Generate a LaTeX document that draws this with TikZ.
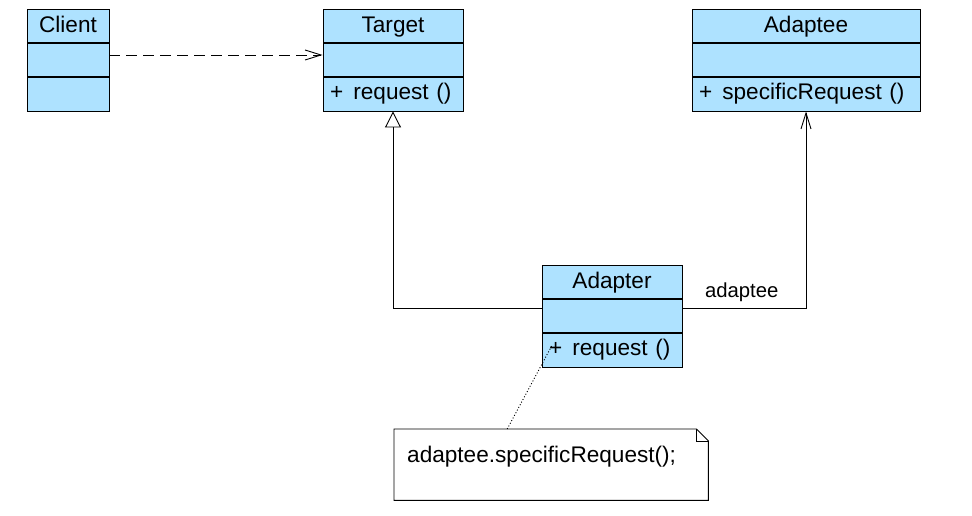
\documentclass[tikz,border=0pt]{standalone}
\usepackage{fontspec}
\setmainfont{Liberation Sans}
\usetikzlibrary{arrows.meta,positioning}
\definecolor{classblue}{RGB}{174,226,255}
\newcommand\umlfont{\fontsize{22.6}{27}\selectfont}
\newcommand\rolefont{\fontsize{20.3}{24}\selectfont}
\newcommand\opsign{+\hspace{0.45em}}
\tikzset{
  umlpart/.style={draw, fill=classblue, line width=0.9pt, minimum height=33.4pt, inner sep=0pt,
    text height=18pt, text depth=4pt, font=\umlfont},
  umlops/.style={umlpart, inner xsep=7pt, align=left, text height=16pt, text depth=6pt},
  dependency/.style={line width=0.9pt, dash pattern=on 11pt off 6pt, -{Straight Barb[length=16pt, width=10pt]}},
  realize/.style={line width=0.9pt, -{Triangle[open, length=16pt, width=16pt]}},
  assoc/.style={line width=0.9pt, -{Straight Barb[length=16pt, width=10pt]}},
  notebox/.style={minimum width=314pt, minimum height=71pt, text width=288pt, inner xsep=13pt, align=left, text height=16pt, text depth=20pt, font=\umlfont},
  noteline/.style={line width=0.9pt},
  notelink/.style={line width=0.9pt, dash pattern=on 1pt off 2pt},
}
\begin{document}
\begin{tikzpicture}[x=1pt, y=-1pt]
  \useasboundingbox (0,0) rectangle (972,516);
  % Client
  \node[umlpart, minimum width=82pt] (client) at (68,25.7) {Client};
  \node[umlpart, minimum width=82pt, below=0pt of client] (client-attr) {};
  \node[umlpart, minimum width=82pt, below=0pt of client-attr] (client-ops) {};
  % Target
  \node[umlpart, minimum width=140pt] (target) at (393,25.7) {Target};
  \node[umlpart, minimum width=140pt, below=0pt of target] (target-attr) {};
  \node[umlops, text width=126pt, below=0pt of target-attr] (target-ops) {\opsign request ()};
  % Adaptee
  \node[umlpart, minimum width=228pt] (adaptee) at (806,25.7) {Adaptee};
  \node[umlpart, minimum width=228pt, below=0pt of adaptee] (adaptee-attr) {};
  \node[umlops, text width=214pt, below=0pt of adaptee-attr] (adaptee-ops) {\opsign specificRequest ()};
  % Adapter
  \node[umlpart, minimum width=140pt] (adapter) at (612,281.7) {Adapter};
  \node[umlpart, minimum width=140pt, below=0pt of adapter] (adapter-attr) {};
  \node[umlops, text width=126pt, below=0pt of adapter-attr] (adapter-ops) {\opsign request ()};
  % relations
  \draw[dependency] ([yshift=5pt]client-attr.east) -- ([yshift=5pt]target-attr.west);
  \draw[realize] ([yshift=8pt]adapter-attr.west) -| (target-ops.south);
  \draw[assoc] ([yshift=8pt]adapter-attr.east) -| node[pos=0.24, above=3pt, font=\rolefont] (role) {adaptee} (adaptee-ops.south);
  % note
  \node[notebox, anchor=north west] (note) at (394,429) {adaptee.specificRequest();};
  \draw[noteline] (note.north west) -- ([xshift=-12pt]note.north east) -- ([yshift=-12pt]note.north east)
    -- (note.south east) -- (note.south west) -- cycle;
  \draw[noteline] ([xshift=-12pt]note.north east) |- ([yshift=-12pt]note.north east);
  \draw[notelink] ([xshift=-44pt]note.north) -- ([xshift=-60pt, yshift=5pt]adapter-ops.center);
\end{tikzpicture}
\end{document}
